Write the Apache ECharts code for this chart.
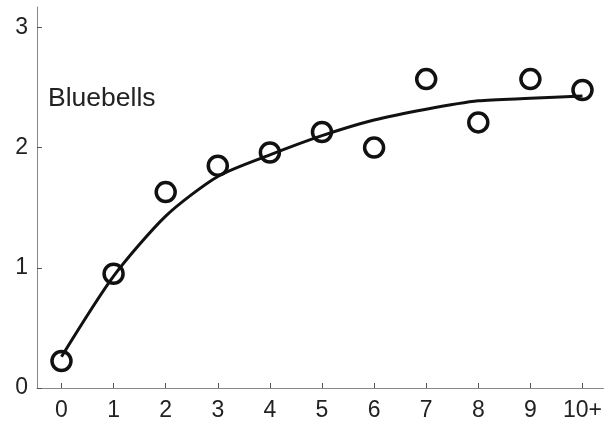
<!DOCTYPE html>
<html>
<head>
<meta charset="utf-8">
<script src="https://cdn.jsdelivr.net/npm/echarts@6/dist/echarts.min.js"></script>
<style>html,body{margin:0;padding:0;background:#fff;}#c{width:605px;height:424px;}</style>
</head>
<body>
<div id="c"></div>
<script>
var categories = [0, 1, 2, 3, 4, 5, 6, 7, 8, 9, 10];
var tickLabels = ['0', '1', '2', '3', '4', '5', '6', '7', '8', '9', '10+'];
var observed = [0.225, 0.95, 1.63, 1.85, 1.96, 2.13, 2.0, 2.57, 2.21, 2.57, 2.48];
var fitted = [0.26, 0.93, 1.43, 1.76, 1.94, 2.10, 2.23, 2.32, 2.39, 2.41, 2.43];
var yTicks = [0, 1, 2, 3];
var seriesLabel = 'Bluebells';

var chart = echarts.init(document.getElementById('c'), null, {renderer: 'canvas'});
var font = '"Liberation Sans", Arial, Helvetica, sans-serif';
chart.setOption({
  animation: false,
  backgroundColor: '#fff',
  title: {
    text: seriesLabel,
    left: 48, top: 85, padding: 0,
    textStyle: {fontFamily: font, fontSize: 26.5, fontWeight: 'normal', color: '#222'}
  },
  grid: {left: 37, right: 0, top: 7, bottom: 36},
  xAxis: {
    type: 'value', min: -0.47, max: 10.4,
    splitLine: {show: false},
    axisLine: {onZero: false, lineStyle: {color: '#888', width: 1}},
    axisTick: {inside: true, length: 5, customValues: categories, lineStyle: {color: '#555'}},
    axisLabel: {
      customValues: categories, margin: 11,
      fontFamily: font, fontSize: 23, color: '#222',
      formatter: function (v) { var i = categories.indexOf(v); return i >= 0 ? tickLabels[i] : ''; }
    }
  },
  yAxis: {
    type: 'value', min: 0, max: 3.17,
    splitLine: {show: false},
    axisLine: {show: true, onZero: false, lineStyle: {color: '#888', width: 1}},
    axisTick: {show: true, inside: true, length: 5, customValues: yTicks, lineStyle: {color: '#555'}},
    axisLabel: {customValues: yTicks, margin: 9, fontFamily: font, fontSize: 23, color: '#222'}
  },
  series: [
    {
      type: 'line', smooth: 0.25, symbol: 'none', z: 2,
      lineStyle: {color: '#111', width: 3},
      data: categories.map(function (c, i) { return [c, fitted[i]]; })
    },
    {
      type: 'scatter', symbol: 'circle', symbolSize: 19, z: 3,
      itemStyle: {color: 'rgba(0,0,0,0)', borderColor: '#111', borderWidth: 3.5, opacity: 1},
      data: categories.map(function (c, i) { return [c, observed[i]]; })
    }
  ]
});
</script>
</body>
</html>
